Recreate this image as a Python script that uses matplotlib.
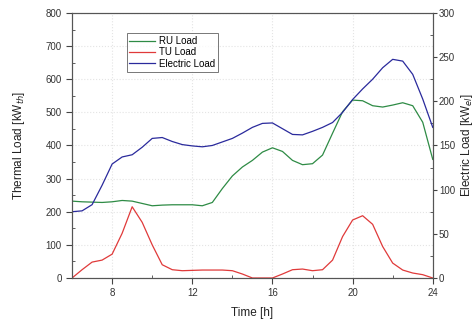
import matplotlib
matplotlib.use("Agg")
import matplotlib.pyplot as plt

plt.rcParams["font.family"] = ["Liberation Sans", "DejaVu Sans"]

# Data

hours = [6, 6.5, 7, 7.5, 8, 8.5, 9, 9.5, 10, 10.5, 11, 11.5, 12, 12.5,
         13, 13.5, 14, 14.5, 15, 15.5, 16, 16.5, 17, 17.5, 18, 18.5,
         19, 19.5, 20, 20.5, 21, 21.5, 22, 22.5, 23, 23.5, 24]

ru_load = [232, 230, 229, 228, 230, 234, 232, 225, 218, 220, 221, 221,
           221, 218, 228, 270, 308, 335, 355, 380, 393, 382, 355, 342,
           345, 371, 437, 502, 537, 535, 520, 516, 522, 529, 520, 470, 358]

tu_load = [0, 25, 48, 54, 72, 135, 215, 168, 100, 40, 25, 22,
           23, 24, 24, 24, 22, 12, 0, 0, 0, 12, 25, 27,
           22, 25, 54, 125, 175, 188, 162, 95, 45, 24, 15, 10, 0]

# electric load in kW_el (right axis)
electric_load = [75, 76, 83, 105, 129, 137, 139.5, 148, 158, 159, 154.5, 151,
                 149.5, 148.5, 150, 154, 158, 164, 170.5, 175, 175.5, 169, 162.5, 162,
                 166, 170.5, 176, 187.5, 202, 214, 225, 238, 247.5, 245.5, 230.5, 202.5, 170.5]

x_ticks = [8, 12, 16, 20, 24]

# Figure

fig = plt.figure(figsize=(4.74, 3.24), dpi=100)
ax = fig.add_axes([0.152, 0.142, 0.761, 0.818])
ax2 = ax.twinx()

l1, = ax.plot(hours, ru_load, color="#2e8b45", lw=0.9, label="RU Load")
l2, = ax.plot(hours, tu_load, color="#e03a3a", lw=0.9, label="TU Load")
l3, = ax2.plot(hours, electric_load, color="#2a2a9c", lw=0.9, label="Electric Load")

ax.set_xlim(6, 24)
ax.set_ylim(0, 800)
ax2.set_ylim(0, 300)

ax.set_xticks(x_ticks)
ax.set_xticks([10, 14, 18, 22], minor=True)
ax.set_yticks(range(0, 801, 100))
ax.set_yticks(range(50, 800, 100), minor=True)
ax2.set_yticks(range(0, 301, 50))
ax2.set_yticks(range(25, 300, 50), minor=True)

ax.grid(True, which="major", color="#e4e4e4", linestyle=":", lw=0.8)

for a in (ax, ax2):
    a.tick_params(which="major", direction="out", length=4, width=0.8,
                  labelsize=7, colors="#444444", labelcolor="#333333")
    a.tick_params(which="minor", direction="in", length=2.5, width=0.6,
                  colors="#444444")
    for s in a.spines.values():
        s.set_color("#555555")
        s.set_linewidth(0.8)
ax2.tick_params(which="major", length=3, pad=1.5)

ax.set_xlabel("Time [h]", fontsize=8.5, color="#222222", labelpad=6)
ax.set_ylabel(r"Thermal Load [kW$_{th}$]", fontsize=8.5, color="#222222")
ax2.set_ylabel(r"Electric Load [kW$_{el}$]", fontsize=8.5, color="#222222")
ax.yaxis.set_label_coords(-0.125, 0.5)
ax2.yaxis.set_label_coords(1.073, 0.5)

leg = ax.legend(handles=[l1, l2, l3], loc="upper left",
                bbox_to_anchor=(0.267, 0.898), bbox_transform=fig.transFigure,
                fontsize=7, frameon=True, fancybox=False, borderpad=0.3,
                handlelength=2.6, handletextpad=0.4, labelspacing=0.15,
                borderaxespad=0)
leg.get_frame().set_edgecolor("#555555")
leg.get_frame().set_linewidth(0.7)

fig.savefig("out.png", dpi=100)
